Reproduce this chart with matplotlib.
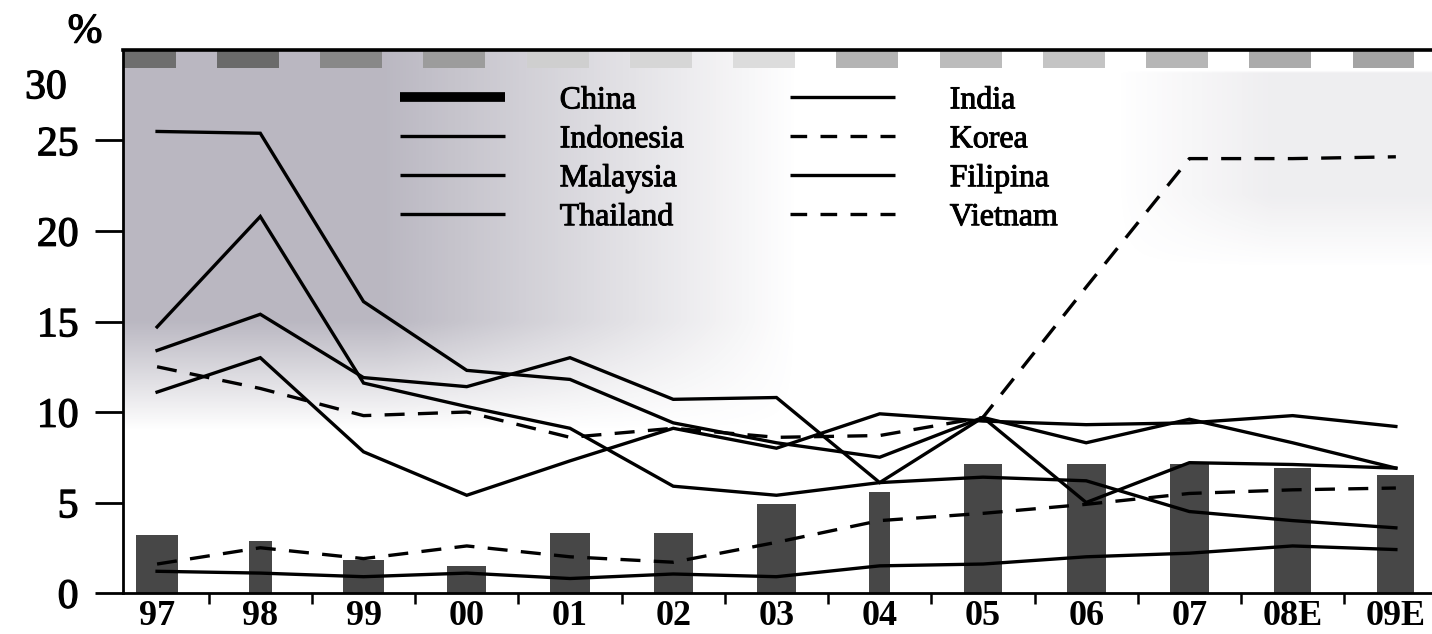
import numpy as np
import matplotlib
matplotlib.use("Agg")
import matplotlib.pyplot as plt
import matplotlib.patheffects as pe
from matplotlib.lines import Line2D
from matplotlib.transforms import blended_transform_factory

plt.rcParams['font.family'] = ['Liberation Serif', 'DejaVu Serif']

# ---------------- data ----------------
years = ["97", "98", "99", "00", "01", "02", "03", "04", "05", "06", "07", "08E", "09E"]
china = [3.2, 2.9, 1.8, 1.5, 3.3, 3.3, 4.9, 5.6, 7.1, 7.1, 7.1, 6.9, 6.5]
india = [1.2, 1.1, 0.9, 1.1, 0.8, 1.05, 0.9, 1.5, 1.6, 2.0, 2.2, 2.6, 2.4]
indonesia = [25.5, 25.4, 16.1, 12.3, 11.8, 9.4, 8.3, 7.5, 9.7, 8.3, 9.6, 8.3, 6.9]
korea = [1.6, 2.5, 1.9, 2.6, 2.0, 1.7, 2.8, 4.0, 4.4, 4.9, 5.5, 5.7, 5.8]
malaysia = [13.4, 15.4, 11.9, 11.4, 13.0, 10.7, 10.8, 6.1, 9.7, 5.0, 7.2, 7.1, 6.9]
filipina = [11.1, 13.0, 7.8, 5.4, 7.3, 9.1, 8.0, 9.9, 9.5, 9.3, 9.4, 9.8, 9.2]
thailand = [14.7, 20.8, 11.6, 10.3, 9.1, 5.9, 5.4, 6.1, 6.4, 6.2, 4.5, 4.0, 3.6]
vietnam = [12.5, 11.3, 9.8, 10.0, 8.6, 9.1, 8.6, 8.7, 9.7, 16.9, 24.0, 24.0, 24.1]
yticks = [0, 5, 10, 15, 20, 25]

# ---------------- figure ----------------
W, H = 1432, 634
fig = plt.figure(figsize=(W / 100, H / 100), dpi=100)
ax = fig.add_axes([123 / W, 1 - 593 / H, (1432 - 123) / W, (593 - 50) / H])

x = np.arange(len(years))
x0, x1 = -0.33, 12.35
y0, y1 = 0, 30

thick = [pe.withStroke(linewidth=0.9, foreground='black')]

# shaded background (scanned look)
nx, ny = 400, 200
gx = np.linspace(x0, x1, nx)
gy = np.linspace(y1, y0, ny)
GX, GY = np.meshgrid(gx, gy)
fx = np.clip((6.2 - GX) / 4.0, 0, 1)
fy = np.clip((GY - 9.0) / 6.0, 0, 1)
alpha = 0.5 * fx * fy
fx2 = np.clip((GX - 9.3) / 1.5, 0, 1)
fy2 = np.clip((GY - 18.0) / 4.0, 0, 1) * (GY < 28.8)
alpha2 = 0.12 * fx2 * fy2
rgba = np.zeros((ny, nx, 4))
rgba[..., 0] = 0.46
rgba[..., 1] = 0.44
rgba[..., 2] = 0.52
rgba[..., 3] = np.maximum(alpha, alpha2)
ax.imshow(rgba, extent=[x0, x1, y0, y1], aspect='auto', zorder=0, interpolation='bilinear')

# strip of grey blocks under the top border
strip_cols = ['#6e6e6e', '#6a6a6a', '#888888', '#9c9c9c', '#cfcfcf', '#d6d6d6', '#dcdcdc',
              '#b4b4b4', '#bcbcbc', '#c4c4c4', '#b6b6b6', '#ababab', '#a4a4a4']
for i, c in enumerate(strip_cols):
    ax.add_patch(plt.Rectangle((i - 0.42, 29.0), 0.6, 1.0, facecolor=c, edgecolor='none', zorder=1))

# bars (China)
bar_widths = [0.40, 0.22, 0.40, 0.38, 0.38, 0.38, 0.37, 0.20, 0.37, 0.38, 0.38, 0.36, 0.36]
ax.bar(x, china, width=bar_widths, color='#474747', edgecolor='none', zorder=2)

lw = 2.4
dash = (0, (6, 4))
for s in [india, indonesia, malaysia, filipina, thailand]:
    ax.plot(x, s, color='black', lw=lw, solid_joinstyle='miter', zorder=3)
for s in [korea, vietnam]:
    ax.plot(x, s, color='black', lw=lw, linestyle=dash, zorder=3)

ax.set_xlim(x0, x1)
ax.set_ylim(y0, y1)

ax.spines['right'].set_visible(False)
ax.spines['left'].set_linewidth(2.0)
ax.spines['bottom'].set_linewidth(2.0)
ax.spines['top'].set_linewidth(2.6)

# ticks
ax.set_xticks(x)
ax.set_xticklabels(years, fontsize=26, fontweight='bold')
ax.tick_params(axis='x', which='major', length=0, pad=5)
ax.set_xticks(x[:-1] + 0.5, minor=True)
ax.tick_params(axis='x', which='minor', length=8, width=1.8, direction='out')

ax.set_yticks(yticks)
ax.set_yticklabels([str(v) for v in yticks], fontsize=30)
ax.tick_params(axis='y', which='major', length=20, width=2.0, direction='out', pad=12)
for t in ax.get_yticklabels():
    t.set_path_effects(thick)

trans = blended_transform_factory(ax.transAxes, ax.transData)
ax.text(-0.043, 27.9, "30", transform=trans, ha='right', va='center', fontsize=30,
        path_effects=thick)
fig.text(85 / W, 1 - 32 / H, "%", ha='center', va='center', fontsize=30, path_effects=thick)

# legends
fs = 23
h_china = Line2D([], [], color='black', lw=7, solid_capstyle='butt')
h_solid = Line2D([], [], color='black', lw=lw, solid_capstyle='butt')
h_dash = Line2D([], [], color='black', lw=lw, linestyle=(0, (5, 4)))
common = dict(frameon=False, fontsize=fs, handlelength=3.3, handletextpad=1.7,
              labelspacing=0.3, borderpad=0, borderaxespad=0, loc='upper left')
leg1 = fig.legend([h_china, h_solid, h_solid, h_solid],
                  ['China', 'Indonesia', 'Malaysia', 'Thailand'],
                  bbox_to_anchor=(400 / W, 1 - 86 / H), **common)
leg2 = fig.legend([h_solid, h_dash, h_solid, h_dash],
                  ['India', 'Korea', 'Filipina', 'Vietnam'],
                  bbox_to_anchor=(790 / W, 1 - 86 / H), **common)
for lg in (leg1, leg2):
    for t in lg.get_texts():
        t.set_path_effects([pe.withStroke(linewidth=0.7, foreground='black')])

fig.savefig('out.png', dpi=100)
